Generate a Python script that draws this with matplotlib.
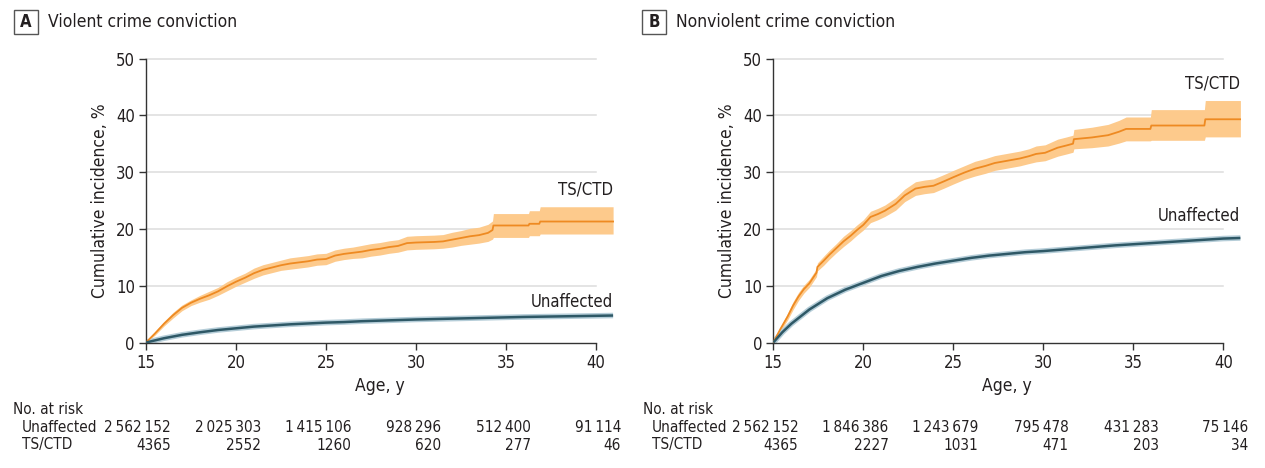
import numpy as np
import matplotlib
matplotlib.use('Agg')
import matplotlib.pyplot as plt
from matplotlib.patches import Rectangle
from matplotlib.transforms import blended_transform_factory

plt.rcParams['font.family'] = ['DejaVu Sans']
plt.rcParams['font.stretch'] = 'condensed'
plt.rcParams['font.size'] = 12

# ---- panel A: violent crime conviction ----
a_ts_age = [15.0, 15.5, 16.0, 16.5, 17.0, 17.5, 18.0, 18.5, 19.0, 19.5, 20.0, 20.5, 21.0, 21.5,
            22.0, 22.5, 23.0, 23.5, 24.0, 24.5, 25.0, 25.5, 26.0, 26.5, 27.0, 27.5, 28.0, 28.5,
            29.0, 29.5, 30.0, 31.0, 31.5, 32.0, 32.5, 33.0, 33.5, 34.0, 34.25, 34.3, 36.25, 36.3,
            36.85, 36.9, 40.95]
a_ts_val = [0.0, 1.6, 3.3, 4.8, 6.1, 7.0, 7.7, 8.3, 9.0, 9.9, 10.7, 11.4, 12.2, 12.8,
            13.2, 13.6, 13.9, 14.1, 14.3, 14.6, 14.7, 15.3, 15.6, 15.8, 16.0, 16.3, 16.5, 16.8,
            17.0, 17.5, 17.6, 17.7, 17.8, 18.1, 18.4, 18.7, 18.9, 19.3, 19.8, 20.6, 20.6, 20.9,
            20.9, 21.3, 21.3]
a_ts_lo = [0.0, 1.3, 2.9, 4.3, 5.6, 6.5, 7.1, 7.6, 8.3, 9.1, 9.9, 10.6, 11.3, 11.9,
           12.3, 12.7, 12.9, 13.1, 13.3, 13.6, 13.7, 14.3, 14.6, 14.8, 14.9, 15.2, 15.4, 15.7,
           15.9, 16.3, 16.4, 16.5, 16.6, 16.8, 17.1, 17.3, 17.5, 17.8, 18.2, 18.5, 18.5, 18.8,
           18.8, 19.1, 19.1]
a_ts_hi = [0.0, 1.9, 3.7, 5.3, 6.6, 7.5, 8.3, 9.0, 9.7, 10.7, 11.5, 12.2, 13.1, 13.7,
           14.1, 14.5, 14.9, 15.1, 15.3, 15.6, 15.7, 16.3, 16.6, 16.8, 17.1, 17.4, 17.6, 17.9,
           18.1, 18.7, 18.8, 18.9, 19.0, 19.4, 19.7, 20.1, 20.3, 20.8, 21.4, 22.7, 22.7, 23.2,
           23.2, 23.9, 23.9]
a_un_age = [15, 16, 17, 18, 19, 20, 21, 22, 23, 24, 25, 26, 27, 28, 29, 30, 32, 34, 36, 38, 40, 40.95]
a_un_val = [0.0, 0.75, 1.35, 1.8, 2.2, 2.5, 2.8, 3.0, 3.2, 3.35, 3.5, 3.6, 3.75, 3.85, 3.95,
            4.05, 4.2, 4.35, 4.5, 4.6, 4.7, 4.75]
a_risk_un = ['2\u2009562\u2009152', '2\u2009025\u2009303', '1\u2009415\u2009106', '928\u2009296', '512\u2009400', '91\u2009114']
a_risk_ts = ['4365', '2552', '1260', '620', '277', '46']

# ---- panel B: nonviolent crime conviction ----
b_ts_age = [15.0, 15.4, 15.8, 16.1, 16.4, 16.7, 17.0, 17.4, 17.45, 17.8, 18.1, 18.5, 18.9, 19.3,
            19.65, 20.0, 20.4, 20.8, 21.2, 21.8, 22.3, 22.9, 23.4, 23.9, 24.5, 25.0, 25.6, 26.2,
            26.8, 27.3, 28.0, 28.7, 29.2, 29.6, 30.1, 30.8, 31.3, 31.65, 31.7, 32.7, 33.6, 34.2,
            34.6, 35.6, 35.95, 36.0, 38.95, 39.0, 40.95]
b_ts_val = [0.0, 2.4, 4.6, 6.5, 8.1, 9.4, 10.4, 12.3, 13.3, 14.4, 15.4, 16.6, 17.8, 18.8,
            19.8, 20.7, 22.1, 22.6, 23.2, 24.4, 25.9, 27.1, 27.4, 27.6, 28.4, 29.1, 29.9, 30.6,
            31.1, 31.6, 32.0, 32.4, 32.8, 33.2, 33.4, 34.3, 34.7, 35.0, 35.8, 36.1, 36.5, 37.1,
            37.6, 37.6, 37.6, 38.2, 38.2, 39.3, 39.3]
b_ts_lo = [0.0, 2.0, 4.0, 5.8, 7.4, 8.7, 9.7, 11.6, 12.6, 13.6, 14.6, 15.8, 16.9, 17.9,
           18.9, 19.8, 21.1, 21.6, 22.2, 23.3, 24.8, 25.9, 26.2, 26.4, 27.2, 27.9, 28.7, 29.3,
           29.8, 30.3, 30.7, 31.1, 31.5, 31.8, 32.0, 32.8, 33.2, 33.5, 34.1, 34.3, 34.6, 35.1,
           35.5, 35.5, 35.5, 35.6, 35.6, 36.2, 36.2]
b_ts_hi = [0.0, 2.8, 5.2, 7.2, 8.8, 10.1, 11.1, 13.0, 14.0, 15.2, 16.2, 17.4, 18.7, 19.7,
           20.7, 21.6, 23.1, 23.6, 24.2, 25.5, 27.0, 28.3, 28.6, 28.8, 29.6, 30.3, 31.1, 31.9,
           32.4, 32.9, 33.3, 33.7, 34.1, 34.6, 34.8, 35.8, 36.2, 36.5, 37.5, 37.9, 38.4, 39.1,
           39.7, 39.7, 39.7, 41.0, 41.0, 42.6, 42.6]
b_un_age = [15, 15.5, 16, 17, 18, 19, 20, 21, 22, 23, 24, 25, 26, 27, 28, 29, 30, 32, 34, 36, 38, 40, 40.95]
b_un_val = [0.0, 1.8, 3.3, 5.8, 7.8, 9.3, 10.5, 11.7, 12.6, 13.3, 13.9, 14.4, 14.9, 15.3,
            15.6, 15.9, 16.1, 16.6, 17.1, 17.5, 17.9, 18.3, 18.4]
b_risk_un = ['2\u2009562\u2009152', '1\u2009846\u2009386', '1\u2009243\u2009679', '795\u2009478', '431\u2009283', '75\u2009146']
b_risk_ts = ['4365', '2227', '1031', '471', '203', '34']

risk_ages = [15, 20, 25, 30, 35, 40]

ORANGE = '#EE8A22'
BAND = '#FDCA8C'
TEAL = '#2E5866'
HALO = '#B5CDD8'
GRID = '#DCDCDC'
TXT = '#231F20'

fig = plt.figure(figsize=(12.65, 4.68), dpi=100)
W, H = 1265, 468


def panel(left, letter, title, box_x, ts_age, ts_val, ts_lo, ts_hi, un_age, un_val,
          risk_un, risk_ts, ts_lab_y, un_lab_y, row_x):
    ax = fig.add_axes([left / W, (H - 342.5) / H, 468 / W, 284 / H])
    ax.set_xlim(15, 41)
    ax.set_ylim(0, 50)
    for yv in [10, 20, 30, 40, 50]:
        ax.plot([15, 40], [yv, yv], color=GRID, lw=1.1, zorder=0, clip_on=False)
    ax.fill_between(ts_age, ts_lo, ts_hi, color=BAND, lw=0, zorder=1)
    ax.plot(ts_age, ts_val, color=ORANGE, lw=1.3, zorder=3)
    ax.plot(un_age, un_val, color=HALO, lw=4.0, zorder=2, solid_capstyle='butt')
    ax.plot(un_age, un_val, color=TEAL, lw=1.8, zorder=3, solid_capstyle='butt')

    for s in ['top', 'right']:
        ax.spines[s].set_visible(False)
    ax.spines['bottom'].set_bounds(15, 40)
    ax.spines['left'].set_bounds(0, 50)
    for s in ['bottom', 'left']:
        ax.spines[s].set_color('#333333')
        ax.spines[s].set_linewidth(1.0)
    ax.set_xticks([15, 20, 25, 30, 35, 40])
    ax.set_yticks([0, 10, 20, 30, 40, 50])
    ax.tick_params(length=5, width=1.0, color='#333333', labelsize=12, labelcolor=TXT, pad=3)
    ax.set_xlabel('Age, y', fontsize=12.5, color=TXT, labelpad=4)
    ax.set_ylabel('Cumulative incidence, %', fontsize=12.5, color=TXT, labelpad=5)

    ax.text(40.95, ts_lab_y, 'TS/CTD', ha='right', va='center', fontsize=12, color=TXT)
    ax.text(40.95, un_lab_y, 'Unaffected', ha='right', va='center', fontsize=12, color=TXT)

    # panel letter box and title
    fig.add_artist(Rectangle((box_x / W, (H - 34) / H), 24 / W, 24 / H, transform=fig.transFigure,
                             fill=False, ec='#555555', lw=1.0))
    fig.text((box_x + 12) / W, (H - 22) / H, letter, ha='center', va='center',
             fontsize=12, fontweight='bold', color=TXT)
    fig.text((box_x + 34) / W, (H - 22) / H, title, ha='left', va='center', fontsize=12.5, color=TXT)

    # number at risk table
    tr = blended_transform_factory(ax.transData, fig.transFigure)
    fig.text(row_x / W, (H - 409) / H, 'No. at risk', ha='left', va='center', fontsize=11, color=TXT)
    fig.text((row_x + 9) / W, (H - 427) / H, 'Unaffected', ha='left', va='center', fontsize=11, color=TXT)
    fig.text((row_x + 9) / W, (H - 445) / H, 'TS/CTD', ha='left', va='center', fontsize=11, color=TXT)
    for age, u, t in zip(risk_ages, risk_un, risk_ts):
        ax.text(age + 1.4, (H - 427) / H, u, transform=tr, ha='right', va='center',
                fontsize=11, color=TXT, clip_on=False)
        ax.text(age + 1.4, (H - 445) / H, t, transform=tr, ha='right', va='center',
                fontsize=11, color=TXT, clip_on=False)
    return ax


panel(146, 'A', 'Violent crime conviction', 14, a_ts_age, a_ts_val, a_ts_lo, a_ts_hi,
      a_un_age, a_un_val, a_risk_un, a_risk_ts, 26.9, 7.1, 13)
panel(773.3, 'B', 'Nonviolent crime conviction', 642, b_ts_age, b_ts_val, b_ts_lo, b_ts_hi,
      b_un_age, b_un_val, b_risk_un, b_risk_ts, 45.6, 22.3, 643)

fig.savefig('out.png', dpi=100)
